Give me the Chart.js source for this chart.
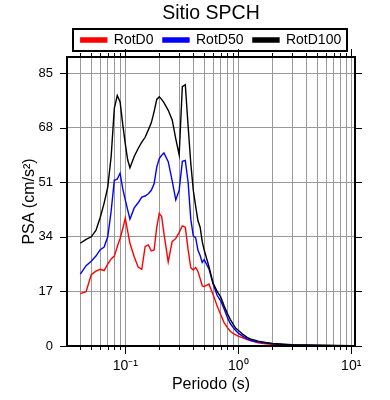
<!DOCTYPE html>
<html><head><meta charset="utf-8">
<script src="https://cdn.jsdelivr.net/npm/chart.js@4/dist/chart.umd.min.js"></script>
<style>html,body{margin:0;padding:0;background:#fff;} #wrap{width:390px;height:400px;}</style>
</head><body><div id="wrap"><canvas id="c" width="390" height="400"></canvas></div>
<script>
const periods = [0.04,0.045,0.05,0.055,0.06,0.065,0.07,0.075,0.08,0.085,0.09,0.095,0.1,0.105,0.11,0.12,0.13,0.14,0.15,0.16,0.17,0.18,0.19,0.2,0.21,0.22,0.24,0.26,0.28,0.3,0.32,0.34,0.36,0.38,0.4,0.42,0.44,0.46,0.48,0.5,0.55,0.6,0.65,0.7,0.75,0.8,0.85,0.9,0.95,1.0,1.1,1.2,1.3,1.5,1.75,2,2.5,3,4,5,7.5,10];
const rotD0 = [16.3,16.9,22.2,23.3,23.9,23.5,25.5,27.1,28.0,31.0,33.5,36.5,39.8,35.8,32.0,27.8,24.6,23.9,31.0,31.5,29.6,29.9,37.0,41.3,40.3,35.0,26.2,32.5,33.5,35.4,37.4,37.0,30.0,24.4,23.7,24.5,23.2,21.0,18.7,18.5,19.3,16.0,12.5,9.7,7.3,5.8,4.6,3.9,3.5,3.1,2.5,2.0,1.6,1.0,0.7,0.55,0.4,0.3,0.2,0.15,0.1,0.07];
const rotD50 = [22.4,25.0,26.4,28.0,30.0,30.8,34.0,42.0,51.6,52.0,53.8,49.0,45.5,42.4,39.5,43.0,44.6,46.4,46.7,47.4,48.5,50.5,55.7,58.4,59.4,60.1,57.4,51.5,45.5,48.5,57.5,57.8,51.0,39.5,34.3,33.7,29.8,28.2,26.0,26.9,24.0,19.2,15.8,14.0,11.5,9.0,7.0,5.8,4.8,4.0,3.0,2.2,1.7,1.2,0.9,0.7,0.5,0.35,0.25,0.18,0.12,0.08];
const rotD100 = [32.0,33.2,34.0,36.0,40.0,44.5,49.5,59.0,74.0,78.0,76.0,69.0,63.0,58.0,55.5,59.0,61.5,63.5,65.0,67.3,69.5,73.0,76.8,77.6,76.8,75.8,73.4,70.5,64.5,59.5,80.8,81.4,68.5,57.0,48.5,43.5,39.0,37.0,32.5,29.8,24.8,19.5,17.0,15.2,12.5,10.2,8.3,6.8,5.5,4.9,3.6,2.7,2.1,1.5,1.1,0.8,0.55,0.4,0.3,0.22,0.15,0.1];
const seriesNames = ['RotD0','RotD50','RotD100'];
const seriesColors = ['#ff0000','#0000ff','#000000'];
const yTicks = [0,17,34,51,68,85];
const xMajorTicks = [0.1,1,10];
const xMajorLabels = ['10\u207B\u00B9','10\u2070','10\u00B9'];
const titleText = 'Sitio SPCH';
const xTitle = 'Periodo (s)';
const yTitle = 'PSA (cm/s\u00B2)';

const X_MIN = 0.0305, X_MAX = 10.8, Y_MIN = 0, Y_MAX = 90;
const FONT = "'Liberation Sans', Arial, Helvetica, sans-serif";

const xGrid = [];
for (let e = -2; e <= 1; e++) for (let k = 1; k <= 9; k++) {
  const v = +(k * Math.pow(10, e)).toPrecision(3);
  if (v >= X_MIN && v <= X_MAX) xGrid.push(v);
}
function isMajor(v){ return xMajorTicks.some(m => Math.abs(m - v) / m < 1e-6); }

const series = [rotD0, rotD50, rotD100];
const datasets = series.map((vals, i) => ({
  label: seriesNames[i],
  data: periods.map((p, j) => ({x: p, y: vals[j]})),
  borderColor: seriesColors[i],
  backgroundColor: seriesColors[i],
  borderWidth: 1.4,
  pointRadius: 0,
  fill: false,
  tension: 0,
  order: 3 - i
}));

const framePlugin = {
  id: 'frame',
  afterDraw(chart) {
    const ctx = chart.ctx, a = chart.chartArea;
    const xs = chart.scales.x, ys = chart.scales.y;
    ctx.save();
    ctx.strokeStyle = '#000';
    ctx.lineWidth = 1;
    xGrid.forEach(v => {
      const px = Math.round(xs.getPixelForValue(v)) + 0.5;
      const len = isMajor(v) ? 8 : 4;
      ctx.beginPath();
      ctx.moveTo(px, a.bottom); ctx.lineTo(px, a.bottom + len);
      ctx.moveTo(px, a.top); ctx.lineTo(px, a.top - len);
      ctx.stroke();
    });
    yTicks.forEach(v => {
      const py = Math.round(ys.getPixelForValue(v)) + 0.5;
      ctx.beginPath();
      ctx.moveTo(a.left, py); ctx.lineTo(a.left - 7, py);
      ctx.moveTo(a.right, py); ctx.lineTo(a.right + 7, py);
      ctx.stroke();
    });
    ctx.lineWidth = 2;
    ctx.strokeRect(a.left, a.top, a.right - a.left, a.bottom - a.top);
    const lg = chart.legend;
    if (lg && lg.legendHitBoxes && lg.legendHitBoxes.length) {
      const hb = lg.legendHitBoxes[0];
      const cy = hb.top + hb.height / 2;
      ctx.strokeRect(a.left + 6, cy - 11, (a.right - 8) - (a.left + 6), 22);
    }
    ctx.restore();
  }
};

new Chart(document.getElementById('c'), {
  type: 'line',
  data: { datasets },
  plugins: [framePlugin],
  options: {
    responsive: false,
    devicePixelRatio: 1,
    animation: false,
    layout: { padding: { left: 0, right: 35, top: 0, bottom: 0 } },
    plugins: {
      tooltip: { enabled: false },
      title: {
        display: true, text: titleText, color: '#000', fullSize: false,
        font: { family: FONT, size: 19.5, weight: 'normal', lineHeight: 1.0 },
        padding: { top: 4, bottom: 0 }
      },
      legend: {
        display: true, position: 'top', fullSize: false,
        labels: {
          boxWidth: 26, boxHeight: 4, padding: 9.5, color: '#000',
          font: { family: FONT, size: 14 },
          sort: (a, b) => a.datasetIndex - b.datasetIndex
        }
      }
    },
    scales: {
      x: {
        type: 'logarithmic', min: X_MIN, max: X_MAX,
        afterBuildTicks: s => { s.ticks = xGrid.map(v => ({ value: v, major: isMajor(v) })); },
        afterFit: s => { s.height = 54; },
        ticks: {
          autoSkip: false, maxRotation: 0, minRotation: 0, padding: 12, color: '#000',
          font: { family: FONT, size: 14 },
          callback: (v) => { const i = xMajorTicks.findIndex(m => Math.abs(m - v) / m < 1e-6); return i >= 0 ? xMajorLabels[i] : ''; }
        },
        grid: { color: '#999', lineWidth: 1, drawTicks: false },
        border: { display: true, color: '#000', width: 2 },
        title: { display: true, text: xTitle, color: '#000', font: { family: FONT, size: 16 }, padding: { top: 8, bottom: 6 } }
      },
      y: {
        type: 'linear', min: Y_MIN, max: Y_MAX,
        afterBuildTicks: s => { s.ticks = yTicks.map(v => ({ value: v })); },
        afterFit: s => { s.width = 67; },
        ticks: { padding: 14, color: '#000', font: { family: FONT, size: 13 } },
        grid: { color: '#999', lineWidth: 1, drawTicks: false },
        border: { display: true, color: '#000', width: 2 },
        title: { display: true, text: yTitle, color: '#000', font: { family: FONT, size: 16 }, padding: { top: 20, bottom: 0 } }
      }
    }
  }
});
</script>
</body></html>
